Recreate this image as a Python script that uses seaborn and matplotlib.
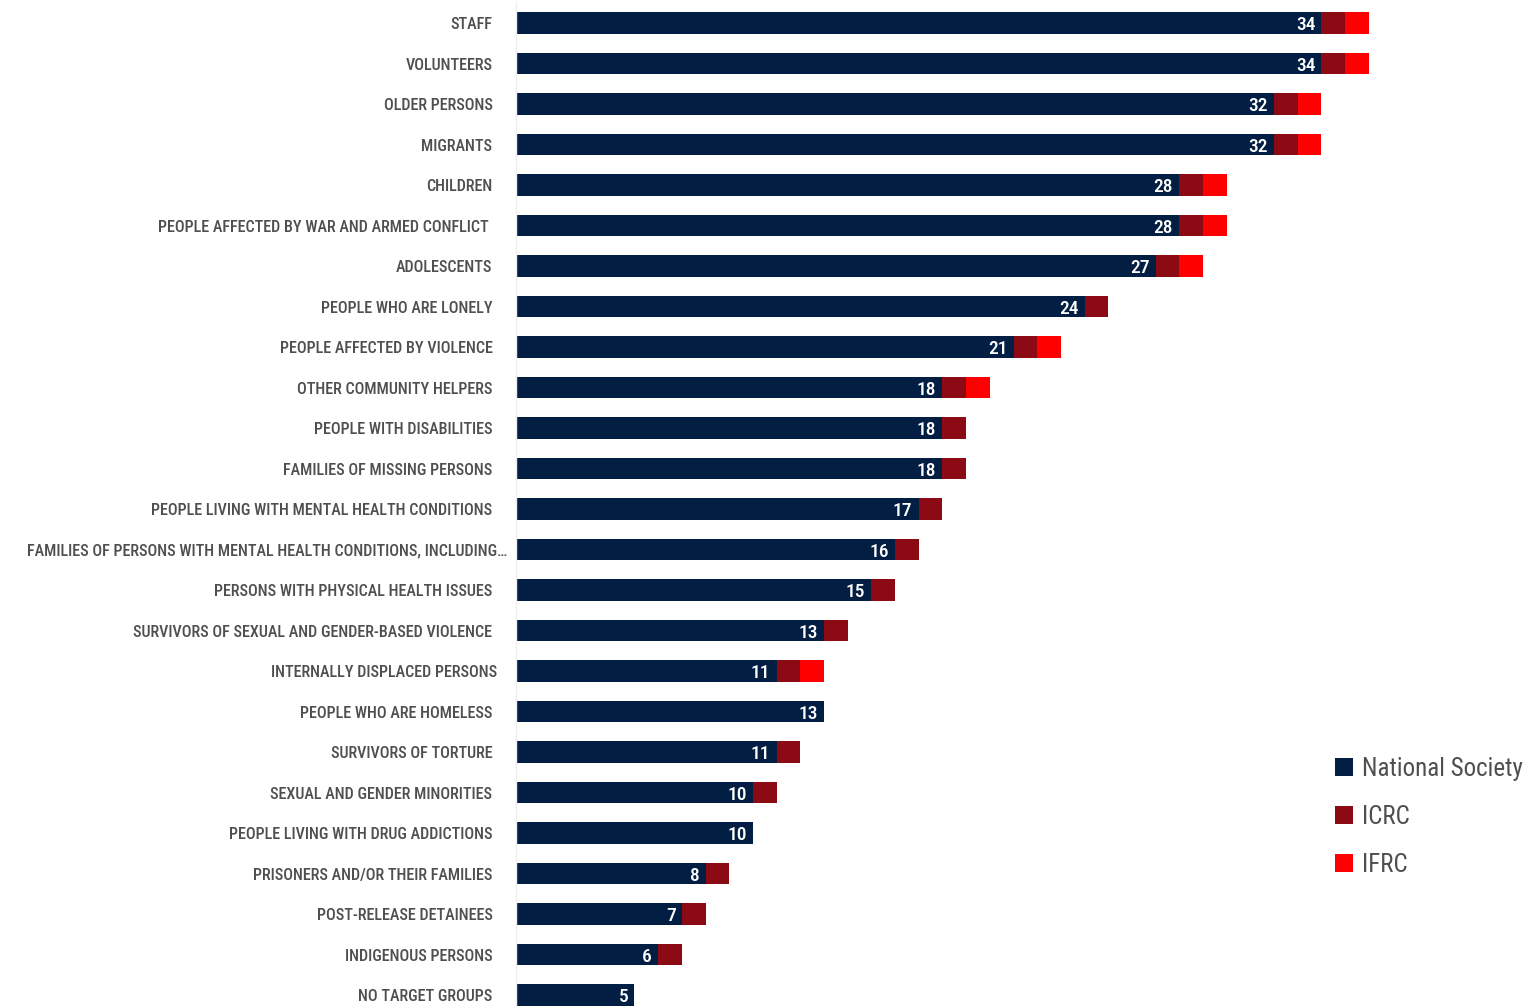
import matplotlib
matplotlib.use("Agg")
import matplotlib.pyplot as plt
from matplotlib import font_manager
from matplotlib.patches import Patch
from matplotlib.transforms import ScaledTranslation
import seaborn as sns
import pandas as pd

# Target groups and the number of organisations working with each
groups = [
    "STAFF", "VOLUNTEERS", "OLDER PERSONS", "MIGRANTS", "CHILDREN",
    "PEOPLE AFFECTED BY WAR AND ARMED CONFLICT ", "ADOLESCENTS",
    "PEOPLE WHO ARE LONELY", "PEOPLE AFFECTED BY VIOLENCE",
    "OTHER COMMUNITY HELPERS", "PEOPLE WITH DISABILITIES",
    "FAMILIES OF MISSING PERSONS", "PEOPLE LIVING WITH MENTAL HEALTH CONDITIONS",
    "FAMILIES OF PERSONS WITH MENTAL HEALTH CONDITIONS, INCLUDING…",
    "PERSONS WITH PHYSICAL HEALTH ISSUES",
    "SURVIVORS OF SEXUAL AND GENDER-BASED VIOLENCE",
    "INTERNALLY DISPLACED PERSONS", "PEOPLE WHO ARE HOMELESS",
    "SURVIVORS OF TORTURE", "SEXUAL AND GENDER MINORITIES",
    "PEOPLE LIVING WITH DRUG ADDICTIONS", "PRISONERS AND/OR THEIR FAMILIES",
    "POST-RELEASE DETAINEES", "INDIGENOUS PERSONS", "NO TARGET GROUPS",
]
national_society = [34, 34, 32, 32, 28, 28, 27, 24, 21, 18, 18, 18, 17, 16,
                    15, 13, 11, 13, 11, 10, 10, 8, 7, 6, 5]
icrc = [1, 1, 1, 1, 1, 1, 1, 1, 1, 1, 1, 1, 1, 1, 1, 1, 1, 0, 1, 1, 0, 1, 1, 1, 0]
ifrc = [1, 1, 1, 1, 1, 1, 1, 0, 1, 1, 0, 0, 0, 0, 0, 0, 1, 0, 0, 0, 0, 0, 0, 0, 0]

series_names = ["National Society", "ICRC", "IFRC"]
colors = {"National Society": "#021e42", "ICRC": "#8c0a14", "IFRC": "#ff0000"}
text_gray = "#4f4f4f"

available = {f.name for f in font_manager.fontManager.ttflist}
font = "Roboto Condensed" if "Roboto Condensed" in available else "DejaVu Sans"

sns.set_theme(style="white")
plt.rcParams["font.family"] = [font, "DejaVu Sans"]

df = pd.DataFrame({
    "group": groups,
    "ns": national_society,
    "icrc": icrc,
    "ifrc": ifrc,
})
df["ns_icrc"] = df["ns"] + df["icrc"]
df["total"] = df["ns_icrc"] + df["ifrc"]

W, H = 1526, 1007
fig = plt.figure(figsize=(W / 100, H / 100), dpi=100)
ax = fig.add_axes([516 / W, 0.0, 995 / W, 1004.25 / H])

bw = 0.54
# Stack by drawing cumulative totals from the outside in
sns.barplot(data=df, y="group", x="total", color=colors["IFRC"], orient="h",
            width=bw, ax=ax, saturation=1, linewidth=0)
sns.barplot(data=df, y="group", x="ns_icrc", color=colors["ICRC"], orient="h",
            width=bw, ax=ax, saturation=1, linewidth=0)
sns.barplot(data=df, y="group", x="ns", color=colors["National Society"], orient="h",
            width=bw, ax=ax, saturation=1, linewidth=0)

ax.set_xlim(0, 42)
ax.set_ylim(24.296, -0.5)
ax.set_xlabel("")
ax.set_ylabel("")
ax.set_xticks([])
for side in ["top", "right", "bottom"]:
    ax.spines[side].set_visible(False)
ax.spines["left"].set_color("#eeeeee")
ax.spines["left"].set_linewidth(1)

ax.tick_params(axis="y", length=0, pad=17)
# a few labels sit a little further right
nudges = {"INTERNALLY DISPLACED PERSONS": 5,
          "FAMILIES OF PERSONS WITH MENTAL HEALTH CONDITIONS, INCLUDING…": 15}
for lbl in ax.get_yticklabels():
    lbl.set_fontsize(11.6)
    lbl.set_color(text_gray)
    lbl.set_fontweight("medium")
    dx = nudges.get(lbl.get_text(), 0)
    if dx:
        lbl.set_transform(lbl.get_transform()
                          + ScaledTranslation(dx / 100, 0, fig.dpi_scale_trans))

# Value labels inside the National Society segment
for i, v in enumerate(df["ns"]):
    ax.text(v - 0.26, i + 0.05, str(v), ha="right", va="center", color="white",
            fontsize=14, fontweight="medium")

handles = [Patch(facecolor=colors[n], edgecolor="none") for n in series_names]
leg = ax.legend(handles, series_names, loc="upper left",
                bbox_to_anchor=((1335 - 516) / 995, 1 - (757 - 2.75) / 1004.25),
                frameon=False, fontsize=18, handlelength=0.72, handleheight=0.72,
                handletextpad=0.36, labelspacing=0.95, borderaxespad=0,
                borderpad=0)
for t in leg.get_texts():
    t.set_color(text_gray)

fig.savefig("out.png", dpi=100)
